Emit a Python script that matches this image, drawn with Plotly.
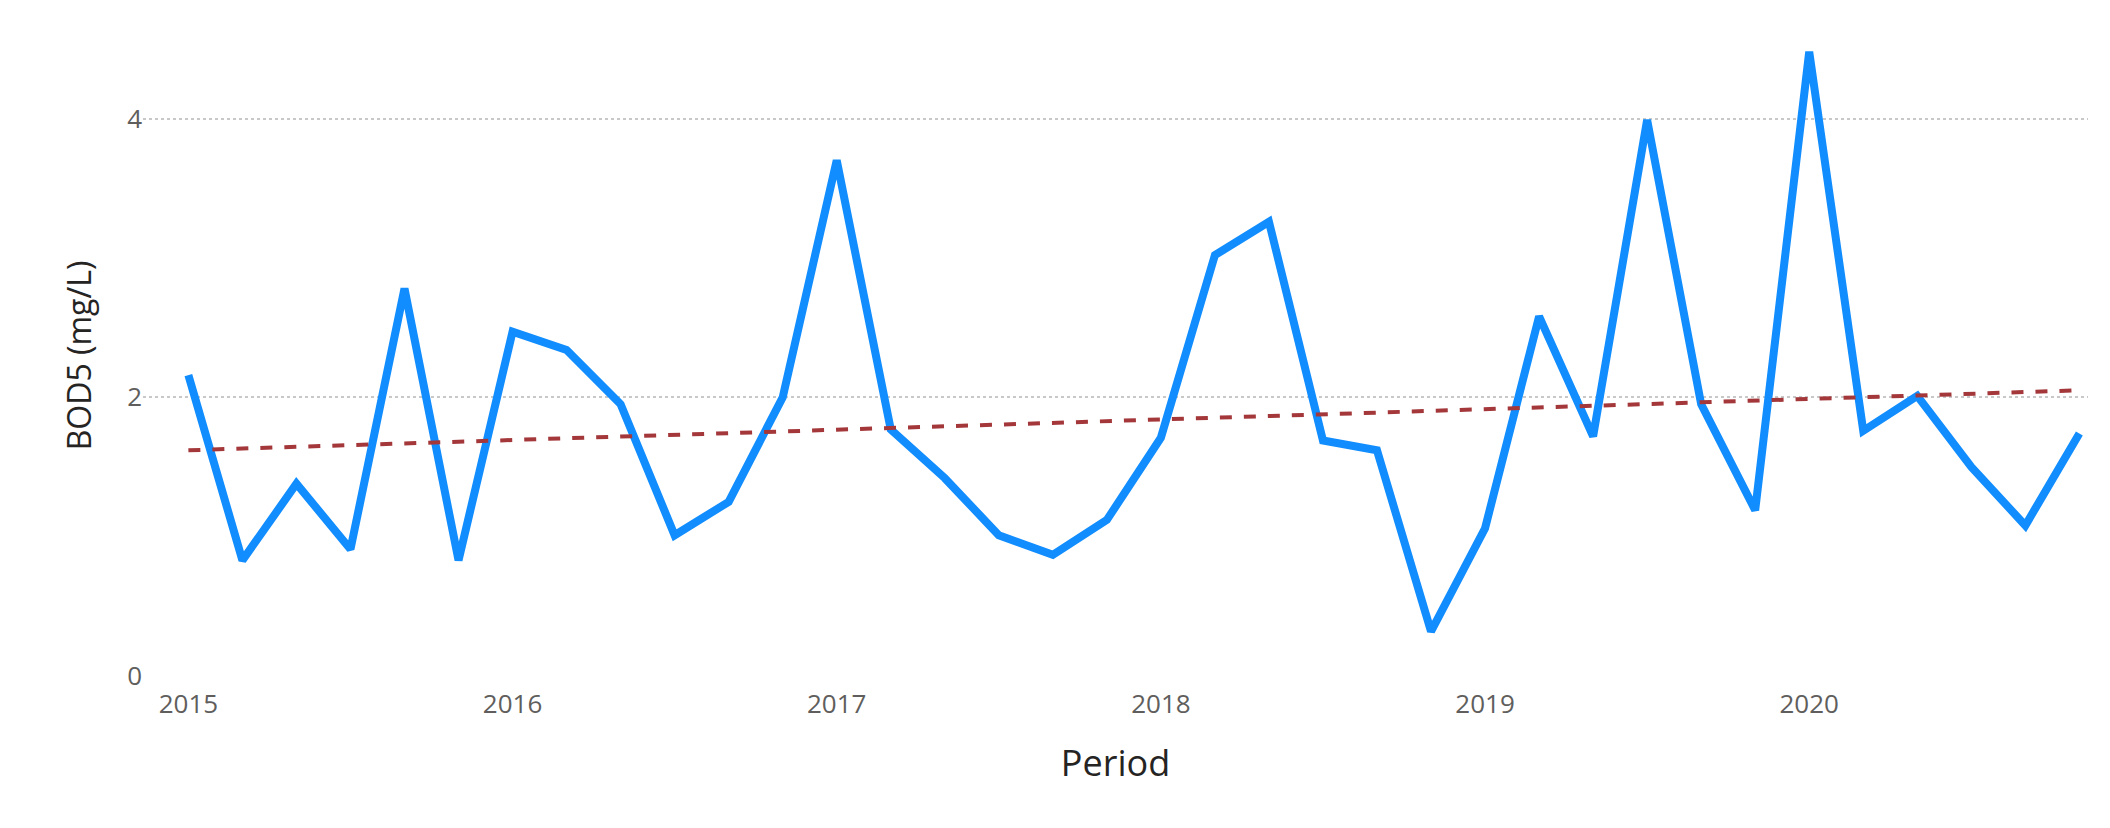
import plotly.graph_objects as go

periods = [2015 + i/6 for i in range(36)]
bod5 = [2.16,0.83,1.38,0.91,2.78,0.83,
        2.47,2.34,1.95,1.01,1.25,2.0,
        3.70,1.77,1.42,1.01,0.87,1.12,
        1.71,3.02,3.26,1.69,1.62,0.32,
        1.06,2.58,1.72,3.99,1.95,1.19,
        4.48,1.76,2.01,1.50,1.08,1.74]
trend_x = [periods[0], periods[-1]]
trend_y = [1.62, 2.05]
year_ticks = [2015, 2016, 2017, 2018, 2019, 2020]
y_ticks = [0, 2, 4]

fig = go.Figure()
fig.add_trace(go.Scatter(x=periods, y=bod5, mode="lines",
                         line=dict(color="#118DFF", width=8), showlegend=False))
fig.add_trace(go.Scatter(x=trend_x, y=trend_y, mode="lines",
                         line=dict(color="#A4373A", width=4, dash="dash"), showlegend=False))
fig.update_layout(
    width=2110, height=828, plot_bgcolor="white", paper_bgcolor="white",
    margin=dict(l=135, r=30, t=27, b=160),
    font=dict(family="Open Sans", color="#605E5C", size=26),
    xaxis=dict(range=[2014.86, 2020.86], tickvals=year_ticks,
               ticktext=[str(v) for v in year_ticks], showgrid=False, zeroline=False,
               title=dict(text="Period", font=dict(size=36, color="#252423"), standoff=30),
               ticks="", ticklabelstandoff=10),
    yaxis=dict(range=[0, 4.6], tickvals=y_ticks, showgrid=True, gridcolor="#C8C8C8",
               griddash="dot", gridwidth=2, zeroline=False, ticks="",
               title=dict(text="BOD5 (mg/L)", font=dict(size=32, color="#252423"), standoff=25)),
)
fig.write_html("out.html")
